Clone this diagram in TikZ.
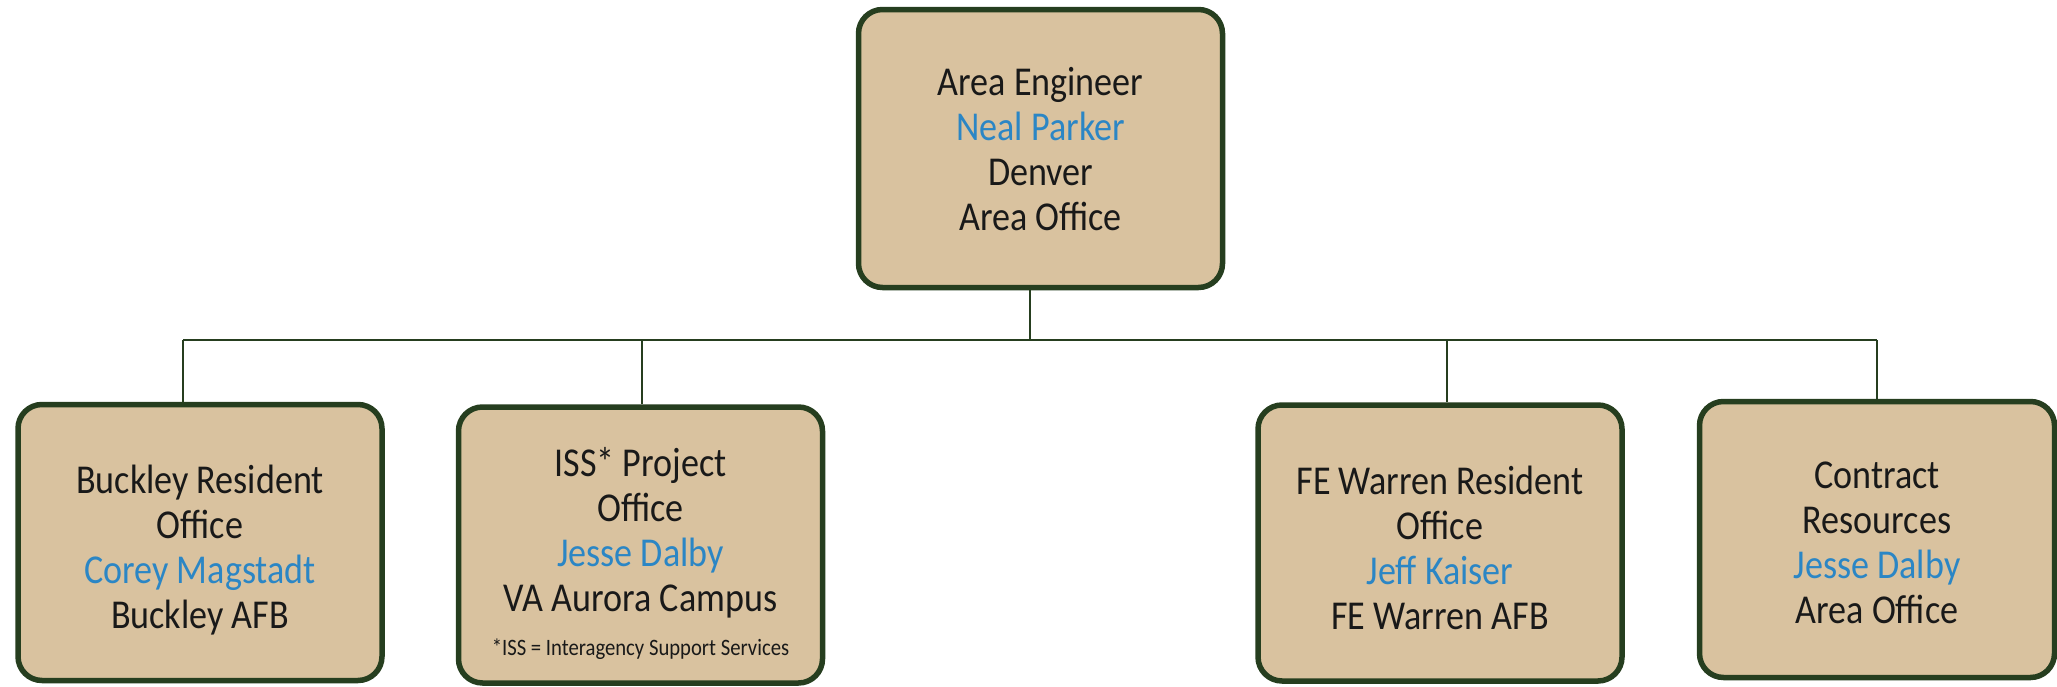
\documentclass[tikz,border=0pt]{standalone}
\usepackage{fontspec}
\setmainfont{Carlito}[FakeStretch=0.88]
\usepackage{tikz}
\definecolor{boxtan}{HTML}{D9C29F}
\definecolor{boxgreen}{HTML}{263E1F}
\definecolor{nameblue}{HTML}{2B86C5}
\newcommand{\who}[1]{\textcolor{nameblue}{#1}}
\begin{document}
\begin{tikzpicture}[x=1pt,y=-1pt,
  office/.style={draw=boxgreen,line width=5.5pt,fill=boxtan,rounded corners=24pt,
    minimum width=364pt,minimum height=276pt,inner sep=0pt,align=center,
    text depth=0pt,text=black!90,font=\fontsize{41}{45}\selectfont},
  link/.style={draw=boxgreen,line width=2.5pt}]
\useasboundingbox (0,0) rectangle (2057,686);
% top box
\node (AE) [office,minimum height=278pt] at(1040.5,148.5) {Area Engineer\\\who{Neal Parker}\\Denver\\Area Office};
% offices below
\node (BRO) [office,text height=172pt] at(200,542.5) {Buckley Resident\\Office\\\who{Corey Magstadt}\\Buckley AFB};
\node (ISS) [office,text height=220pt] at(640.5,545) {ISS* Project\\Office\\\who{Jesse Dalby}\\VA Aurora Campus\\[-1pt]{\fontsize{23.5}{26}\selectfont *ISS = Interagency Support Services}};
\node (FRO) [office,text height=172pt] at(1440,543) {FE Warren Resident\\Office\\\who{Jeff Kaiser}\\FE Warren AFB};
\node (CR) [office,minimum width=355pt,text height=168pt] at(1877,539.5) {Contract\\Resources\\\who{Jesse Dalby}\\Area Office};
% bar and drops
\coordinate (hub) at(1030,340);
\coordinate (barL) at(183,340);
\coordinate (barR) at(1877,340);
\draw[link] (hub |- AE.south) -- (hub);
\draw[link] (barL) -- (barR);
\foreach \x/\n in {183/BRO,642/ISS,1447/FRO,1877/CR}{
  \coordinate (drop) at(\x,340);
  \draw[link] (drop) -- (drop |- \n.north);
}
\end{tikzpicture}
\end{document}
